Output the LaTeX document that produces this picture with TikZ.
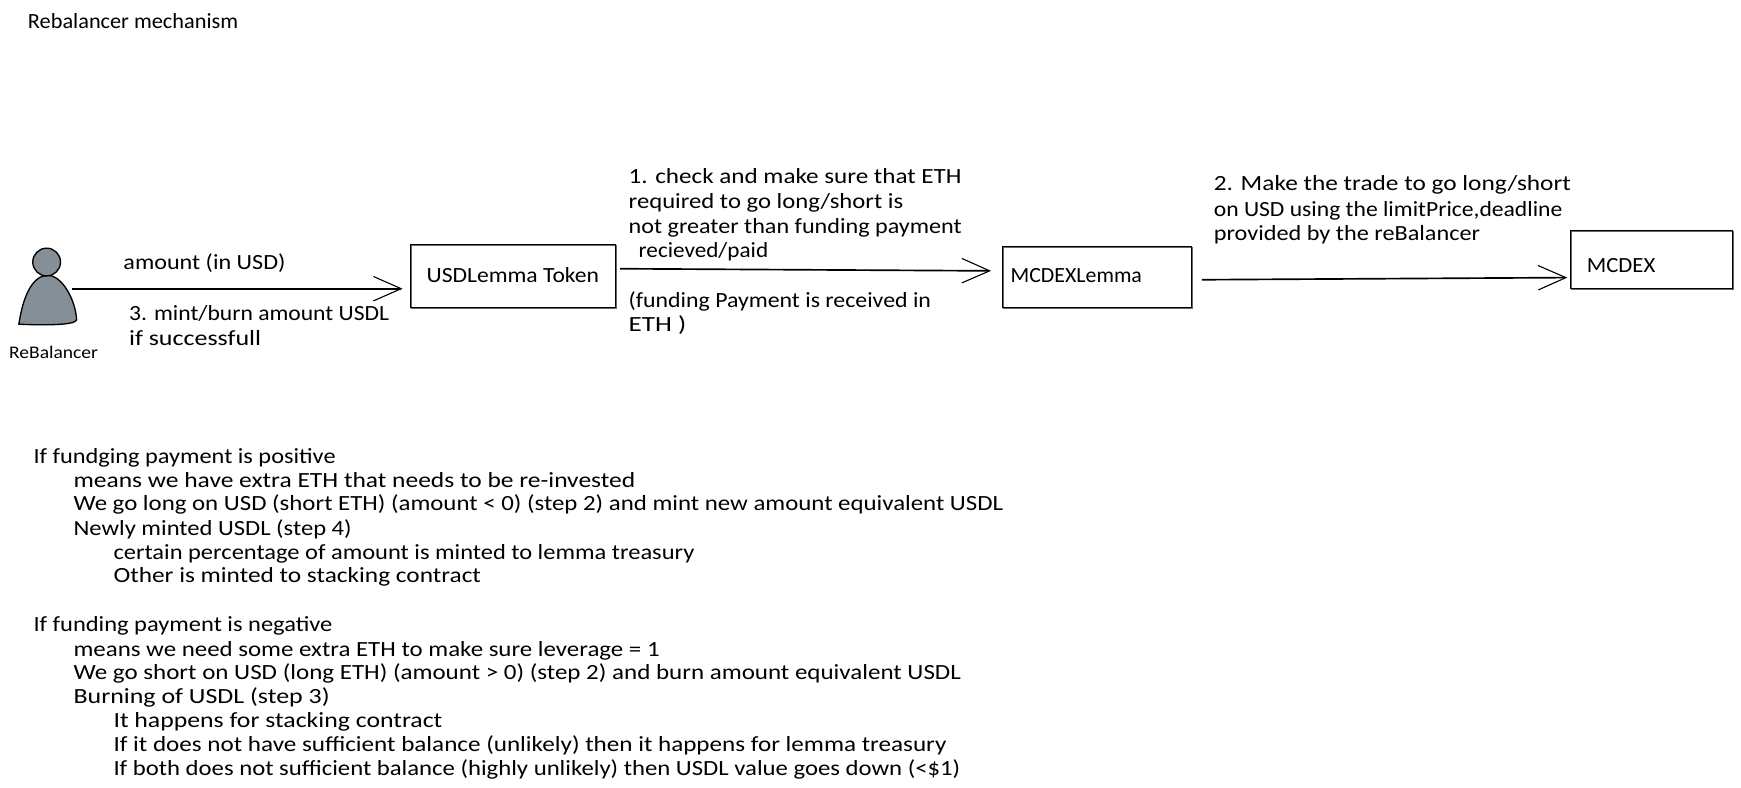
\documentclass[tikz,border=0pt]{standalone}
\usepackage{fontspec}
\setmainfont{Carlito}
\usetikzlibrary{arrows.meta}
\definecolor{persongray}{HTML}{868E96}
\tikzset{
  box/.style={draw=black,line width=.9pt,minimum width=#1,inner sep=0pt,
    preaction={draw=black!60,line width=.5pt,transform canvas={shift={(.7pt,-.7pt)}}}},
  txt/.style={anchor=base west,inner sep=0pt,transform shape,font=\fontsize{19.5}{22}\selectfont},
  flow/.style={line width=1.5pt,-{Straight Barb[length=25pt,width=22pt,line width=1pt]}}
}
\begin{document}
\begin{tikzpicture}[x=1pt,y=-1pt]
  \useasboundingbox (0,0) rectangle (1568,709);

\node [txt,xscale=1.03] (title) at (25,26) {Rebalancer mechanism};

\draw[line width=1.2pt,fill=persongray] (17,292) .. controls (21,265) and (30,248) .. (43,248) .. controls (56,248) and (68,270) .. (69,288) .. controls (68,293) and (40,293) .. (17,292) -- cycle;
\draw[line width=1.2pt,fill=persongray] (42,236) circle (12.5);
\node [txt,xscale=1.1,font=\fontsize{16}{18}\selectfont] (rebalancer) at (8,323) {ReBalancer};
\coordinate (personright) at (65,260);

\node [box=184,minimum height=57] (usdlemma) at (462,248.5) {};
\node [box=170,minimum height=55] (mcdexlemma) at (988,249.5) {};
\node [box=146,minimum height=52] (mcdex) at (1487,234) {};

\node [txt,xscale=1.09] (usdtext) at (384,254) {USDLemma Token};
\node [txt,xscale=1.01] (lemmatext) at (910,254) {MCDEXLemma};
\node [txt,xscale=1.05] (mcdextext) at (1429,245) {MCDEX};

\draw[flow,shorten >=7pt] (personright)--(usdlemma.west |- personright);
\draw[flow,shorten <=4pt,shorten >=10pt] (usdlemma.east |- 0,242)--(mcdexlemma.west |- 0,244);
\draw[flow,shorten <=9pt,shorten >=2pt] (mcdexlemma.east |- 0,252)--(mcdex.west |- 0,250);

\node [txt,xscale=1.115] (amount) at (111,243) {amount (in USD)};
\node [txt,xscale=1.09] (mintburn) at (116,289) {3. mint/burn amount USDL};
\node [txt,xscale=1.2] (success) at (116,311) {if successfull};

\node [txt,xscale=1.16] (checka) at (566,165) {1. check and make sure that ETH};
\node [txt,xscale=1.14] (checkb) at (566,188) {required to go long/short is};
\node [txt,xscale=1.115] (checkc) at (566,210) {not greater than funding payment};
\node [txt,xscale=1.07] (checkd) at (575,232) {recieved/paid};
\node [txt,xscale=1.1] (fundinga) at (566,277) {(funding Payment is received in};
\node [txt,xscale=1.25] (fundingb) at (566,299) {ETH )};

\node [txt,xscale=1.17] (tradea) at (1093,172) {2. Make the trade to go long/short};
\node [txt,xscale=1.09] (tradeb) at (1093,195) {on USD using the limitPrice,deadline};
\node [txt,xscale=1.12] (tradec) at (1093,217) {provided by the reBalancer};

\node [txt,xscale=1.124] (posa) at (30,417) {If fundging payment is positive};
\node [txt,xscale=1.177] (posb) at (66,439) {means we have extra ETH that needs to be re-invested};
\node [txt,xscale=1.148] (posc) at (66,460) {We go long on USD (short ETH) (amount < 0) (step 2) and mint new amount equivalent USDL};
\node [txt,xscale=1.136] (posd) at (66,482) {Newly minted USDL (step 4)};
\node [txt,xscale=1.13] (pose) at (102,504) {certain percentage of amount is minted to lemma treasury};
\node [txt,xscale=1.17] (posf) at (102,525) {Other is minted to stacking contract};

\node [txt,xscale=1.13] (nega) at (30,569) {If funding payment is negative};
\node [txt,xscale=1.15] (negb) at (66,591) {means we need some extra ETH to make sure leverage = 1};
\node [txt,xscale=1.155] (negc) at (66,612) {We go short on USD (long ETH) (amount > 0) (step 2) and burn amount equivalent USDL};
\node [txt,xscale=1.197] (negd) at (66,634) {Burning of USDL (step 3)};
\node [txt,xscale=1.19] (nege) at (102,655) {It happens for stacking contract};
\node [txt,xscale=1.16] (negf) at (102,677) {If it does not have sufficient balance (unlikely) then it happens for lemma treasury};
\node [txt,xscale=1.142] (negg) at (102,698) {If both does not sufficient balance (highly unlikely) then USDL value goes down (<\$1)};

\end{tikzpicture}
\end{document}
